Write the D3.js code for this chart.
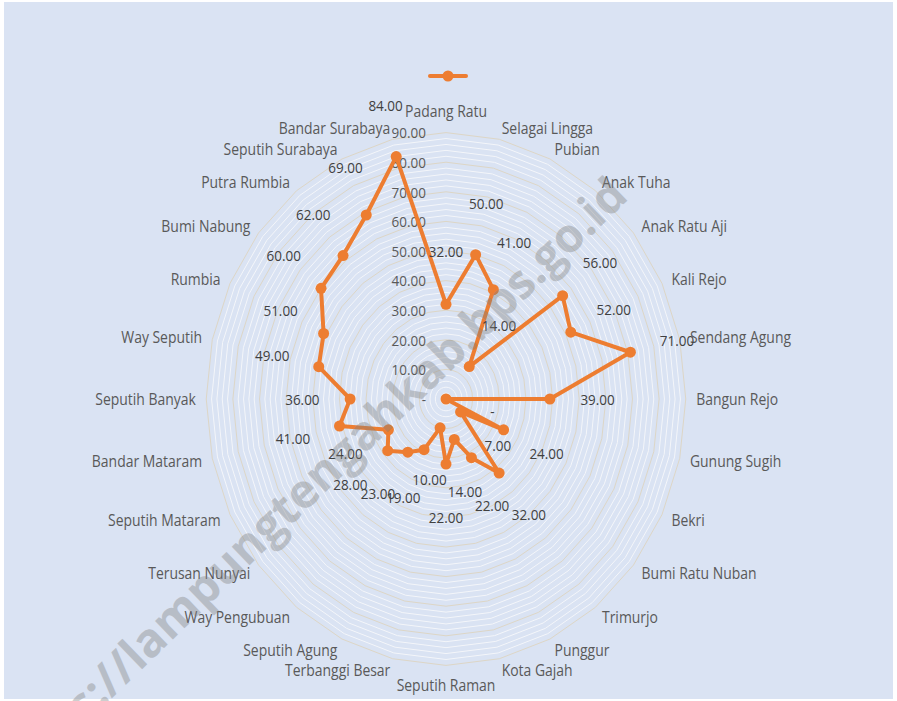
<!DOCTYPE html>
<html>
<head>
<meta charset="utf-8">
<script src="https://cdn.jsdelivr.net/npm/d3@7"></script>
<style>
  body { margin: 0; background: #fff; }
  svg text { font-family: "Open Sans", sans-serif; }
</style>
</head>
<body>
<svg id="chart" width="897" height="701"></svg>
<script>
// kecamatan, clockwise from the top
const categories = [
  'Padang Ratu', 'Selagai Lingga', 'Pubian', 'Anak Tuha', 'Anak Ratu Aji',
  'Kali Rejo', 'Sendang Agung', 'Bangun Rejo', 'Gunung Sugih', 'Bekri',
  'Bumi Ratu Nuban', 'Trimurjo', 'Punggur', 'Kota Gajah', 'Seputih Raman',
  'Terbanggi Besar', 'Seputih Agung', 'Way Pengubuan', 'Terusan Nunyai',
  'Seputih Mataram', 'Bandar Mataram', 'Seputih Banyak', 'Way Seputih',
  'Rumbia', 'Bumi Nabung', 'Putra Rumbia', 'Seputih Surabaya', 'Bandar Surabaya'
];
const values = [
  32, 50, 41, 14, 56, 52, 71, 39, 0, 24,
  7, 32, 22, 14, 22, 10, 19, 23, 28,
  24, 41, 36, 49, 51, 60, 62, 69, 84
];
const tickValues = [0, 10, 20, 30, 40, 50, 60, 70, 80, 90];
const watermark = 'https://lampungtengahkab.bps.go.id';

const cx = 446, cy = 399, sx = 0.9;   // picture is a bit squeezed sideways
const orange = '#ED7D31';

const svg = d3.select('#chart');

svg.append('rect')
  .attr('x', 4).attr('y', 2)
  .attr('width', 889).attr('height', 697)
  .attr('fill', '#dae3f3');

const r = d3.scaleLinear().domain([0, 90]).range([0, 266.4]);
const angle = d3.scaleLinear().domain([0, categories.length]).range([0, 2 * Math.PI]);

function pt(i, rad) {
  let a = angle(i);
  return [cx + sx * rad * Math.sin(a), cy - rad * Math.cos(a)];
}

// spider web, minor rings every 2, major every 10
const rings = d3.range(2, 91, 2);
svg.append('g').selectAll('polygon')
  .data(rings.filter(v => v % 10 != 0).concat(rings.filter(v => v % 10 == 0)))
  .enter().append('polygon')
  .attr('points', v => categories.map((c, i) => pt(i, r(v)).join(',')).join(' '))
  .attr('fill', 'none')
  .attr('stroke', v => v % 10 == 0 ? '#ddd6c6' : '#f4f6fa')
  .attr('stroke-width', 1);

// value axis labels
svg.append('g').selectAll('text')
  .data(tickValues)
  .enter().append('text')
  .attr('transform', v => `translate(426,${cy - r(v)}) scale(${sx},1)`)
  .attr('text-anchor', 'end')
  .attr('dominant-baseline', 'central')
  .attr('font-size', 15)
  .attr('fill', '#595959')
  .text(v => v == 0 ? '-' : v.toFixed(2));

// category labels
svg.append('g').selectAll('text')
  .data(categories)
  .enter().append('text')
  .attr('transform', (c, i) => {
    let [x, y] = pt(i, 278);
    let cosA = Math.cos(angle(i));
    if (Math.abs(Math.sin(angle(i))) < 0.01) y += cosA > 0 ? -4 : 1;
    return `translate(${x},${y}) scale(${sx},1)`;
  })
  .attr('text-anchor', (c, i) => {
    let s = Math.sin(angle(i));
    return Math.abs(s) < 0.01 ? 'middle' : (s > 0 ? 'start' : 'end');
  })
  .attr('dominant-baseline', (c, i) => {
    let s = Math.sin(angle(i)), co = Math.cos(angle(i));
    if (Math.abs(s) < 0.01) return co > 0 ? 'auto' : 'hanging';
    return 'central';
  })
  .attr('font-size', 15.5)
  .attr('fill', '#595959')
  .text(c => c);

// series
const line = d3.line().curve(d3.curveLinearClosed);
svg.append('path')
  .attr('d', line(values.map((v, i) => pt(i, r(v)))))
  .attr('fill', 'none')
  .attr('stroke', orange)
  .attr('stroke-width', 4)
  .attr('stroke-linejoin', 'round');

svg.append('g').selectAll('circle')
  .data(values)
  .enter().append('circle')
  .attr('cx', (v, i) => pt(i, r(v))[0])
  .attr('cy', (v, i) => pt(i, r(v))[1])
  .attr('r', 5.5)
  .attr('fill', orange);

// data labels sit outside each point
svg.append('g').selectAll('text')
  .data(values)
  .enter().append('text')
  .attr('transform', (v, i) => {
    let [x, y] = pt(i, r(v) + 53);
    return `translate(${x},${y}) scale(${sx},1)`;
  })
  .attr('text-anchor', 'middle')
  .attr('dominant-baseline', 'central')
  .attr('font-size', 15)
  .attr('fill', '#404040')
  .text(v => v == 0 ? '-' : v.toFixed(2));

// legend (series has no name)
const lg = svg.append('g').attr('transform', 'translate(448,76)');
lg.append('line')
  .attr('x1', -18).attr('x2', 18)
  .attr('stroke', orange).attr('stroke-width', 4)
  .attr('stroke-linecap', 'round');
lg.append('circle').attr('r', 5.5).attr('fill', orange);

// watermark
svg.append('text')
  .attr('transform', 'translate(630,198) rotate(-44)')
  .attr('text-anchor', 'end')
  .attr('font-size', 47)
  .attr('font-weight', 'bold')
  .attr('fill', '#808080')
  .attr('opacity', 0.38)
  .text(watermark);
</script>
</body>
</html>
